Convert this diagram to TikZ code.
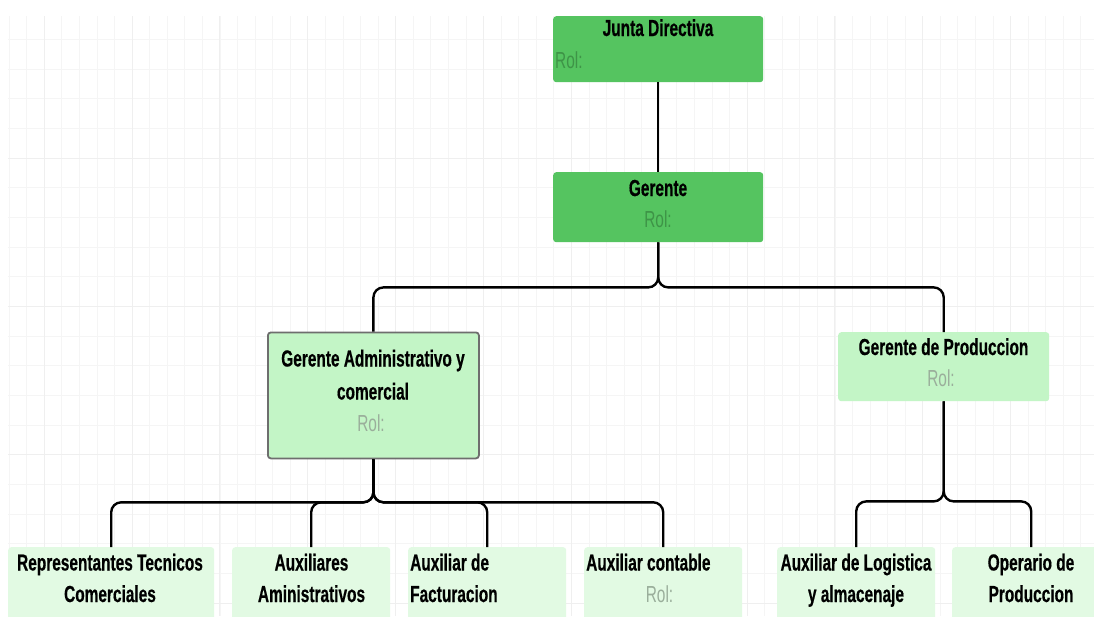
\documentclass[tikz,border=0pt]{standalone}
\usepackage{fontspec}
\newfontfamily\cf{Liberation Sans}[FakeStretch=0.665, BoldFeatures={FakeBold=0.5}]
\definecolor{gdark}{HTML}{55C460}
\definecolor{glight}{HTML}{C3F5C6}
\definecolor{gpale}{HTML}{E2FAE3}
\definecolor{roldark}{HTML}{3E9447}
\definecolor{rollight}{HTML}{9AAE9B}
\definecolor{gridminor}{HTML}{F5F5F5}
\definecolor{gridmajor}{HTML}{EFEFEF}
\definecolor{bordergray}{HTML}{6E6E6E}
\tikzset{
  box/.style={rounded corners=3pt, inner sep=0pt, anchor=north west},
  dark/.style={box, fill=gdark},
  light/.style={box, fill=glight},
  pale/.style={box, fill=gpale},
  conn/.style={draw=black, line width=2.4pt, rounded corners=10pt},
  ttl/.style={font=\cf\bfseries\fontsize{23.2}{33}\selectfont, anchor=base, inner sep=0pt, text=black},
  rolt/.style={font=\cf\fontsize{23.2}{33}\selectfont, anchor=base, inner sep=0pt},
}
\begin{document}
\begin{tikzpicture}[x=1pt,y=-1pt]
\useasboundingbox (0,0) rectangle (1094,616);
\clip (0,0) rectangle (1094,616);
\fill[white] (0,0) rectangle (1094,616);
% grid
\begin{scope}
\clip (8,16) rectangle (1094,616);
\foreach \i in {0,...,62} {\draw[gridminor, line width=0.8pt] ({9.1+17.57*\i},16) -- ({9.1+17.57*\i},616);}
\foreach \k in {1,...,20} {\draw[gridminor, line width=0.8pt] (8,{9.65+29.67*\k}) -- (1094,{9.65+29.67*\k});}
\foreach \i in {2,7,...,62} {\draw[gridmajor, line width=1pt] ({9.1+17.57*\i},16) -- ({9.1+17.57*\i},616);}
\foreach \k in {5,10,15,20} {\draw[gridmajor, line width=1pt] (8,{9.65+29.67*\k}) -- (1094,{9.65+29.67*\k});}
\end{scope}
% boxes
\node[dark, minimum width=210, minimum height=66] (junta) at (553,16) {};
\node[dark, minimum width=210, minimum height=70] (ger) at (553,172) {};
\node[light, draw=bordergray, line width=1.8pt, minimum width=211, minimum height=126] (gadm) at (267,331.5) {};
\node[light, minimum width=211, minimum height=69] (gprod) at (838,332) {};
\node[pale, minimum width=206, minimum height=90] (b1) at (8,547) {};
\node[pale, minimum width=158, minimum height=90] (b2) at (232,547) {};
\node[pale, minimum width=158, minimum height=90] (b3) at (408,547) {};
\node[pale, minimum width=158, minimum height=90] (b4) at (584,547) {};
\node[pale, minimum width=158, minimum height=90] (b5) at (777,547) {};
\node[pale, minimum width=158, minimum height=90] (b6) at (952,547) {};
% connectors
\draw[conn] (junta.south) -- (ger.north);
\draw[conn] (ger.south) -- ++(0,45) -| (gadm.north);
\draw[conn] (ger.south) -- ++(0,45) -| (gprod.north);
\draw[conn] (gadm.south) -- ++(0,43) -| (b1.north);
\draw[conn] (gadm.south) -- ++(0,43) -| (b2.north);
\draw[conn] (gadm.south) -- ++(0,43) -| (b3.north);
\draw[conn] (gadm.south) -- ++(0,43) -| (b4.north);
\draw[conn] (gprod.south) -- ++(0,100) -| (b5.north);
\draw[conn] (gprod.south) -- ++(0,100) -| (b6.north);
% texts
\node[ttl] (tjunta) at (658,36) {Junta Directiva};
\node[rolt, anchor=base west, text=roldark] (rjunta) at (555,68) {Rol:};
\node[ttl] (tger) at (658,196) {Gerente};
\node[rolt, text=roldark] (rger) at (658,227) {Rol:};
\node[ttl] (tadm1) at (373,366.5) {Gerente Administrativo y};
\node[ttl] (tadm2) at (373,399.5) {comercial};
\node[rolt, text=rollight] (radm) at (371,431.5) {Rol:};
\node[ttl] (tprod) at (943.5,355) {Gerente de Produccion};
\node[rolt, text=rollight] (rprod) at (941,386.5) {Rol:};
\node[ttl] (tb1a) at (110,570.5) {Representantes Tecnicos};
\node[ttl] (tb1b) at (110,602) {Comerciales};
\node[ttl] (tb2a) at (311.5,570.5) {Auxiliares};
\node[ttl] (tb2b) at (311.5,602) {Aministrativos};
\node[ttl, anchor=base west] (tb3a) at (410,570.5) {Auxiliar de};
\node[ttl, anchor=base west] (tb3b) at (410,602) {Facturacion};
\node[ttl, anchor=base west] (tb4a) at (586,570.5) {Auxiliar contable};
\node[rolt, text=rollight] (rb4) at (659.5,602) {Rol:};
\node[ttl] (tb5a) at (856,570.5) {Auxiliar de Logistica};
\node[ttl] (tb5b) at (856,602) {y almacenaje};
\node[ttl] (tb6a) at (1031,570.5) {Operario de};
\node[ttl] (tb6b) at (1031,602) {Produccion};
\end{tikzpicture}
\end{document}
